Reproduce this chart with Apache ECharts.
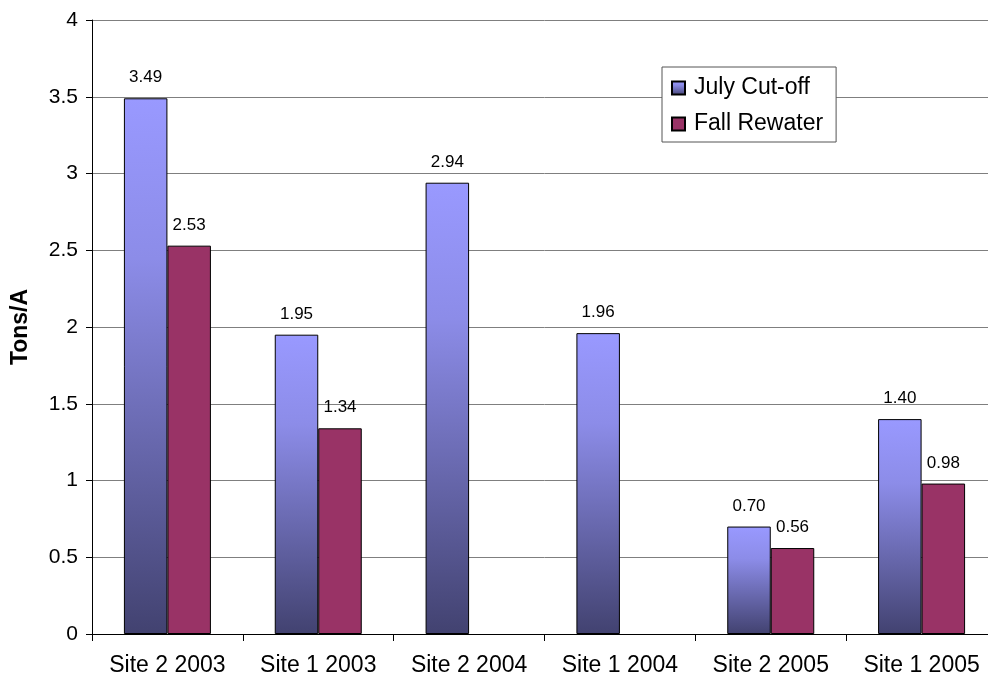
<!DOCTYPE html>
<html>
<head>
<meta charset="utf-8">
<script src="https://cdn.jsdelivr.net/npm/echarts@6/dist/echarts.min.js"></script>
<style>
html,body{margin:0;padding:0;background:#fff;overflow:hidden;width:988px;height:680px;}
#chart{width:997px;height:680px;}
</style>
</head>
<body>
<div id="chart"></div>
<script>
const categories = ['Site 2 2003', 'Site 1 2003', 'Site 2 2004', 'Site 1 2004', 'Site 2 2005', 'Site 1 2005'];
const julyCutoff = [3.49, 1.95, 2.94, 1.96, 0.70, 1.40];
const fallRewater = [2.53, 1.34, null, null, 0.56, 0.98];
const yTicks = [0, 0.5, 1, 1.5, 2, 2.5, 3, 3.5, 4];

const FONT = '"Liberation Sans", Arial, sans-serif';
const chart = echarts.init(document.getElementById('chart'));

const labelCfg = {
  show: true,
  position: 'top',
  distance: 12,
  color: '#000',
  fontSize: 17,
  fontFamily: FONT,
  formatter: p => (p.value == null ? '' : Number(p.value).toFixed(2))
};

chart.setOption({
  animation: false,
  backgroundColor: '#fff',
  grid: { left: 92, right: 0, top: 20, bottom: 46, containLabel: false },
  legend: {
    orient: 'vertical',
    left: 662,
    top: 67,
    width: 173,
    padding: [9, 13, 6, 9],
    itemGap: 12,
    itemWidth: 13,
    itemHeight: 13,
    icon: 'rect',
    backgroundColor: '#fff',
    borderColor: '#555',
    borderWidth: 1,
    borderRadius: 0,
    textStyle: { fontSize: 23, fontFamily: FONT, color: '#000', lineHeight: 24, padding: [0, 0, 0, 4] },
    data: ['July Cut-off', 'Fall Rewater']
  },
  xAxis: {
    type: 'category',
    data: categories,
    axisLine: { lineStyle: { color: '#000', width: 1 } },
    axisTick: { show: true, length: 7, lineStyle: { color: '#000' } },
    axisLabel: { interval: 0, fontSize: 23, fontFamily: FONT, color: '#000', margin: 20 },
    splitLine: { show: false }
  },
  yAxis: {
    type: 'value',
    min: 0,
    max: 4,
    interval: 0.5,
    name: 'Tons/A',
    nameLocation: 'middle',
    nameGap: 60,
    nameRotate: 90,
    nameTextStyle: { fontSize: 23, fontWeight: 'bold', fontFamily: FONT, color: '#000' },
    axisLine: { show: true, lineStyle: { color: '#000', width: 1 } },
    axisTick: { show: true, length: 6, lineStyle: { color: '#000' } },
    axisLabel: {
      fontSize: 21, fontFamily: FONT, color: '#000', margin: 14,
      formatter: v => (yTicks.includes(v) ? String(v) : '')
    },
    splitLine: { show: true, lineStyle: { color: '#7f7f7f', width: 1 } }
  },
  series: [
    {
      name: 'July Cut-off',
      type: 'bar',
      data: julyCutoff,
      barWidth: 43.5,
      barGap: '0%',
      itemStyle: {
        color: new echarts.graphic.LinearGradient(0, 0, 0, 1, [
          { offset: 0, color: '#9999ff' },
          { offset: 0.3, color: '#8c8ce8' },
          { offset: 1, color: '#424270' }
        ]),
        borderColor: '#000',
        borderWidth: 1
      },
      label: labelCfg
    },
    {
      name: 'Fall Rewater',
      type: 'bar',
      data: fallRewater,
      barWidth: 43.5,
      barGap: '0%',
      itemStyle: { color: '#993366', borderColor: '#000', borderWidth: 1 },
      label: labelCfg
    }
  ]
});
</script>
</body>
</html>
